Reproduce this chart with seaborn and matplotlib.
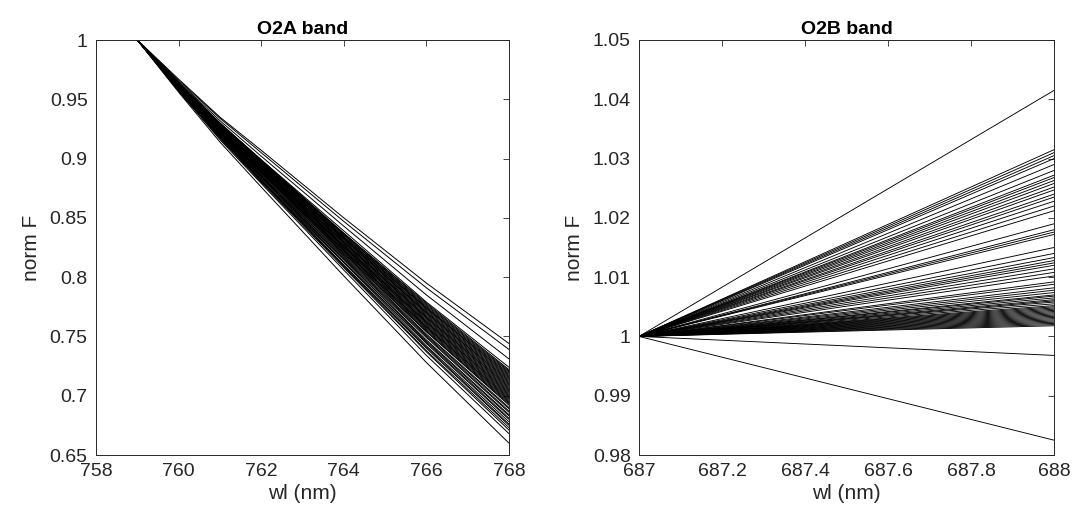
import numpy as np
import pandas as pd
import matplotlib
matplotlib.use("Agg")
import matplotlib.pyplot as plt
import seaborn as sns
from matplotlib.ticker import FuncFormatter

# ---------------- data ----------------
# O2A band: normalized F at a few wavelengths (value 1 at 759 nm)
o2a_wl = [759, 760, 761, 762, 764, 766, 768]
o2a_768 = [0.744, 0.739, 0.731, 0.724, 0.722, 0.721, 0.720, 0.719, 0.718, 0.717, 0.716,
           0.715, 0.714, 0.713, 0.712, 0.711, 0.710, 0.709, 0.708, 0.707, 0.706, 0.705,
           0.704, 0.703, 0.702, 0.701, 0.700, 0.699, 0.698, 0.697, 0.696, 0.695, 0.694,
           0.693, 0.692, 0.690, 0.689, 0.687, 0.686, 0.684, 0.683, 0.681, 0.680, 0.678,
           0.676, 0.675, 0.673, 0.671, 0.668, 0.660]
o2a_766 = [0.795, 0.791, 0.785, 0.779, 0.778, 0.777, 0.776, 0.775, 0.774, 0.774, 0.773,
           0.772, 0.771, 0.770, 0.770, 0.769, 0.768, 0.767, 0.766, 0.766, 0.765, 0.764,
           0.763, 0.762, 0.762, 0.761, 0.760, 0.759, 0.758, 0.758, 0.757, 0.756, 0.755,
           0.754, 0.754, 0.752, 0.751, 0.750, 0.749, 0.747, 0.746, 0.745, 0.744, 0.742,
           0.741, 0.740, 0.738, 0.737, 0.734, 0.728]
o2a_764 = [0.850, 0.847, 0.843, 0.839, 0.837, 0.837, 0.836, 0.836, 0.835, 0.834, 0.834,
           0.833, 0.833, 0.832, 0.832, 0.831, 0.830, 0.830, 0.829, 0.829, 0.828, 0.827,
           0.827, 0.826, 0.826, 0.825, 0.825, 0.824, 0.823, 0.823, 0.822, 0.822, 0.821,
           0.820, 0.820, 0.819, 0.818, 0.817, 0.816, 0.815, 0.815, 0.813, 0.813, 0.812,
           0.810, 0.810, 0.809, 0.808, 0.806, 0.801]
o2a_762 = [0.907, 0.905, 0.902, 0.899, 0.899, 0.898, 0.898, 0.897, 0.897, 0.897, 0.896,
           0.896, 0.896, 0.895, 0.895, 0.895, 0.894, 0.894, 0.893, 0.893, 0.893, 0.892,
           0.892, 0.892, 0.891, 0.891, 0.891, 0.890, 0.890, 0.889, 0.889, 0.889, 0.888,
           0.888, 0.888, 0.887, 0.886, 0.886, 0.885, 0.885, 0.884, 0.884, 0.883, 0.882,
           0.882, 0.881, 0.881, 0.880, 0.879, 0.876]
o2a_761 = [0.935, 0.934, 0.932, 0.930, 0.930, 0.930, 0.929, 0.929, 0.929, 0.929, 0.928,
           0.928, 0.928, 0.928, 0.927, 0.927, 0.927, 0.927, 0.926, 0.926, 0.926, 0.926,
           0.925, 0.925, 0.925, 0.925, 0.924, 0.924, 0.924, 0.924, 0.923, 0.923, 0.923,
           0.923, 0.922, 0.922, 0.922, 0.921, 0.921, 0.920, 0.920, 0.920, 0.919, 0.919,
           0.918, 0.918, 0.918, 0.917, 0.916, 0.914]
o2a_760 = [0.967, 0.966, 0.965, 0.964, 0.964, 0.964, 0.964, 0.963, 0.963, 0.963, 0.963,
           0.963, 0.963, 0.963, 0.963, 0.962, 0.962, 0.962, 0.962, 0.962, 0.962, 0.962,
           0.961, 0.961, 0.961, 0.961, 0.961, 0.961, 0.961, 0.961, 0.960, 0.960, 0.960,
           0.960, 0.960, 0.960, 0.960, 0.959, 0.959, 0.959, 0.959, 0.959, 0.958, 0.958,
           0.958, 0.958, 0.958, 0.957, 0.957, 0.956]

# O2B band: normalized F at 687 nm (=1) and 688 nm
o2b_wl = [687, 688]
o2b_688 = [1.0415, 1.0315, 1.0310, 1.0305, 1.0300, 1.0290, 1.0280, 1.0272, 1.0268, 1.0263,
           1.0258, 1.0252, 1.0247, 1.0240, 1.0235, 1.0228, 1.0220, 1.0212, 1.0190, 1.0180,
           1.0176, 1.0172, 1.0150, 1.0140, 1.0133, 1.0128, 1.0124, 1.0120, 1.0114, 1.0108,
           1.0102, 1.0092, 1.0088, 1.0082, 1.0078, 1.0074, 1.0070, 1.0068, 1.0065, 1.0062,
           1.0060, 1.0058, 1.0055, 1.0052, 1.0050, 1.0048, 1.0046, 1.0044, 1.0042, 1.0040,
           1.0038, 1.0036, 1.0034, 1.0032, 1.0030, 1.0028, 1.0026, 1.0024, 1.0022, 1.0020,
           1.0018, 0.9968, 0.9825]

# ---------------- tables ----------------
rows = []
for i in range(len(o2a_768)):
    vals = [1.0, o2a_760[i], o2a_761[i], o2a_762[i], o2a_764[i], o2a_766[i], o2a_768[i]]
    for w, v in zip(o2a_wl, vals):
        rows.append({"wl": w, "F": v, "id": i})
df_a = pd.DataFrame(rows)

rows = []
for i, e in enumerate(o2b_688):
    for w, v in zip(o2b_wl, [1.0, e]):
        rows.append({"wl": w, "F": v, "id": i})
df_b = pd.DataFrame(rows)

# ---------------- style ----------------
sns.set_style("white")
plt.rcParams["font.family"] = ["Liberation Sans", "DejaVu Sans"]
axc = "#262626"
plt.rcParams.update({
    "axes.edgecolor": axc, "xtick.color": axc, "ytick.color": axc,
    "axes.labelcolor": axc, "text.color": "black",
    "axes.linewidth": 0.7,
})

fig = plt.figure(figsize=(10.75, 5.28), dpi=100)
ax1 = fig.add_axes([96 / 1075, 1 - 455 / 528, 413 / 1075, 415 / 528])
ax2 = fig.add_axes([639 / 1075, 1 - 455 / 528, 415 / 1075, 415 / 528])

sns.lineplot(data=df_a, x="wl", y="F", units="id", estimator=None, color="black",
             linewidth=0.7, ax=ax1, legend=False)
sns.lineplot(data=df_b, x="wl", y="F", units="id", estimator=None, color="black",
             linewidth=0.65, ax=ax2, legend=False)

fmt = FuncFormatter(lambda v, p: f"{v:g}")

ax1.set_xlim(758, 768)
ax1.set_ylim(0.65, 1.0)
ax1.set_xticks(np.arange(758, 768.1, 2))
ax1.set_yticks(np.arange(0.65, 1.0001, 0.05))
ax1.set_title("O2A band", fontsize=14, fontweight="bold", pad=4)

ax2.set_xlim(687, 688)
ax2.set_ylim(0.98, 1.05)
ax2.set_xticks(np.arange(687, 688.01, 0.2))
ax2.set_yticks(np.arange(0.98, 1.0501, 0.01))
ax2.set_title("O2B band", fontsize=14, fontweight="bold", pad=4)

for ax in (ax1, ax2):
    ax.xaxis.set_major_formatter(fmt)
    ax.yaxis.set_major_formatter(fmt)
    ax.tick_params(direction="in", length=4, width=0.6, labelsize=14,
                   top=True, right=True, pad=6)
    ax.set_xlabel("wl (nm)", fontsize=15, labelpad=3)
    ax.set_ylabel("norm F", fontsize=15, labelpad=6)
    for s in ax.spines.values():
        s.set_visible(True)
        s.set_color(axc)

fig.savefig("out.png", dpi=100)
